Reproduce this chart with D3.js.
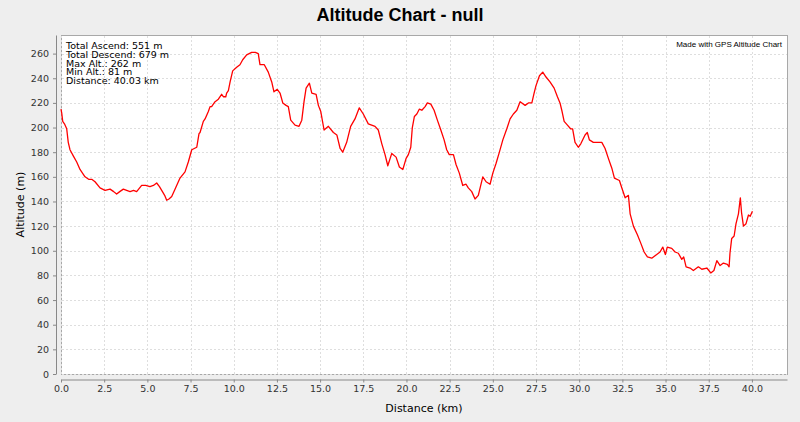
<!DOCTYPE html>
<html><head><meta charset="utf-8">
<script src="https://cdn.jsdelivr.net/npm/d3@7"></script>
<style>body{margin:0;background:#eeeeee;} svg{display:block;}</style>
</head><body>
<svg id="chart" width="800" height="422"></svg>
<script>
const distance = [0.00,0.04,0.10,0.20,0.33,0.42,0.52,0.71,0.91,1.10,1.39,1.60,1.78,1.97,2.26,2.55,2.84,3.05,3.22,3.40,3.61,3.80,4.00,4.20,4.38,4.67,4.90,5.15,5.35,5.54,5.70,5.83,6.00,6.12,6.25,6.41,6.60,6.89,7.18,7.37,7.57,7.86,7.99,8.05,8.24,8.34,8.53,8.63,8.72,8.92,9.11,9.30,9.40,9.54,9.59,9.69,9.79,9.94,10.17,10.36,10.52,10.75,11.04,11.25,11.42,11.52,11.77,12.00,12.20,12.33,12.52,12.68,12.84,13.03,13.16,13.30,13.55,13.78,13.94,14.07,14.19,14.38,14.52,14.77,14.90,15.04,15.23,15.48,15.77,15.97,16.16,16.31,16.54,16.77,17.02,17.27,17.50,17.79,18.18,18.37,18.57,18.76,18.92,19.15,19.40,19.59,19.79,19.98,20.11,20.25,20.34,20.46,20.60,20.75,20.89,21.08,21.21,21.41,21.60,21.79,21.99,22.18,22.33,22.48,22.72,22.87,23.06,23.26,23.45,23.58,23.78,23.97,24.16,24.30,24.42,24.61,24.84,25.00,25.19,25.38,25.58,25.81,26.00,26.19,26.39,26.58,26.87,27.06,27.26,27.39,27.50,27.70,27.89,28.08,28.31,28.55,28.74,28.89,29.01,29.13,29.32,29.50,29.62,29.76,29.95,30.10,30.34,30.47,30.59,30.82,31.17,31.31,31.50,31.69,31.89,32.04,32.33,32.47,32.66,32.85,32.95,33.14,33.37,33.57,33.76,33.95,34.20,34.49,34.68,34.84,34.99,35.10,35.36,35.55,35.74,35.94,36.05,36.19,36.42,36.61,36.90,37.10,37.39,37.62,37.80,37.97,38.16,38.35,38.58,38.68,38.73,38.83,38.97,39.08,39.22,39.33,39.40,39.51,39.66,39.80,39.90,40.03];
const altitude = [215,212,205,203,199,188,182,177,172,166,160,158,158,156,151,149,150,148,146,148,150,149,148,149,148,153,153,152,153,155,152,149,145,141,142,144,150,159,164,172,182,184,195,196,205,207,213,217,217,221,223,227,225,225,228,230,237,246,249,251,255,259,261,261,260,251,251,245,237,229,231,228,220,218,217,206,202,201,206,221,232,236,228,227,218,213,198,201,196,194,183,180,188,201,207,216,211,203,201,198,187,178,169,179,176,168,166,175,178,184,200,209,211,215,214,217,220,219,214,206,198,190,182,178,178,170,163,153,154,151,148,142,145,153,160,156,154,163,171,180,190,199,207,211,214,221,218,220,220,228,234,242,245,241,237,232,225,220,213,205,202,199,199,188,184,187,194,196,190,188,188,188,183,175,167,159,157,151,143,145,130,120,113,106,99,95,94,97,99,103,97,103,102,99,98,93,95,87,86,84,87,85,86,82,84,92,88,90,89,87,98,110,112,122,130,143,131,120,122,129,128,132];
const xTicks = [0,2.5,5,7.5,10,12.5,15,17.5,20,22.5,25,27.5,30,32.5,35,37.5,40];
const yTicks = [0,20,40,60,80,100,120,140,160,180,200,220,240,260];
const infoLines = ["Total Ascend: 551 m","Total Descend: 679 m","Max Alt.: 262 m","Min Alt.: 81 m","Distance: 40.03 km"];
const titleText = "Altitude Chart - null";
const xLabel = "Distance (km)";
const yLabel = "Altitude (m)";
const credit = "Made with GPS Altitude Chart";

const svg = d3.select("#chart");
const W = 800, H = 422;
const plot = {left: 61, right: 787, top: 35, bottom: 374};
const x = d3.scaleLinear().domain([0, 40.03 * 1.05]).range([plot.left, plot.right]);
const y = d3.scaleLinear().domain([0, 262 * 1.05]).range([plot.bottom, plot.top]);
const font = "'DejaVu Sans', sans-serif";

svg.append("rect").attr("width", W).attr("height", H).attr("fill", "#eeeeee");
svg.append("text").attr("x", 400).attr("y", 21).attr("text-anchor", "middle")
  .attr("font-family", "'Liberation Sans', Arial, sans-serif").attr("font-weight", "bold")
  .attr("font-size", 18).attr("fill", "#000").text(titleText);

svg.append("rect").attr("x", plot.left + 0.5).attr("y", plot.top + 0.5)
  .attr("width", plot.right - plot.left).attr("height", plot.bottom - plot.top)
  .attr("fill", "#ffffff").attr("stroke", "#a8a8a8").attr("stroke-width", 1);

// grid
const grid = svg.append("g").attr("stroke", "#dedede").attr("stroke-dasharray", "2,2");
grid.selectAll("line.v").data(xTicks).join("line")
  .attr("x1", d => Math.round(x(d)) + 0.5).attr("x2", d => Math.round(x(d)) + 0.5)
  .attr("y1", plot.top + 1).attr("y2", plot.bottom);
grid.selectAll("line.h").data(yTicks).join("line")
  .attr("y1", d => Math.round(y(d)) + 0.5).attr("y2", d => Math.round(y(d)) + 0.5)
  .attr("x1", plot.left + 1).attr("x2", plot.right);

// axes
const xAxis = svg.append("g").attr("transform", `translate(0,${plot.bottom + 5.5})`)
  .call(d3.axisBottom(x).tickValues(xTicks).tickFormat(d3.format(".1f")).tickSizeInner(3).tickSizeOuter(0).tickPadding(3));
const yAxis = svg.append("g").attr("transform", `translate(${plot.left - 5},0)`)
  .call(d3.axisLeft(y).tickValues(yTicks).tickSizeInner(3).tickSizeOuter(0).tickPadding(4));
[xAxis, yAxis].forEach(a => {
  a.select(".domain").attr("stroke", "#888888");
  a.selectAll(".tick line").attr("stroke", "#888888");
  a.selectAll(".tick text").attr("font-family", font).attr("font-size", 9.5).attr("fill", "#333");
});

svg.append("text").attr("x", (plot.left + plot.right) / 2).attr("y", 412).attr("text-anchor", "middle")
  .attr("font-family", font).attr("font-size", 11).attr("fill", "#000").text(xLabel);
svg.append("text").attr("transform", `translate(24,${(plot.top + plot.bottom) / 2}) rotate(-90)`)
  .attr("text-anchor", "middle").attr("font-family", font).attr("font-size", 11).attr("fill", "#000").text(yLabel);

// line
const line = d3.line().x((d, i) => x(distance[i])).y(d => y(d));
svg.append("path").datum(altitude).attr("d", line).attr("fill", "none")
  .attr("stroke", "#ff0000").attr("stroke-width", 1.3).attr("stroke-linejoin", "round");

// info
svg.append("g").selectAll("text").data(infoLines).join("text")
  .attr("x", 66).attr("y", (d, i) => 49 + i * 8.75)
  .attr("font-family", font).attr("font-size", 9.5).attr("fill", "#000").text(d => d);
svg.append("text").attr("x", 782).attr("y", 47).attr("text-anchor", "end")
  .attr("font-family", "'Liberation Sans', Arial, sans-serif").attr("font-size", 8).attr("fill", "#000").text(credit);
</script>
</body></html>
